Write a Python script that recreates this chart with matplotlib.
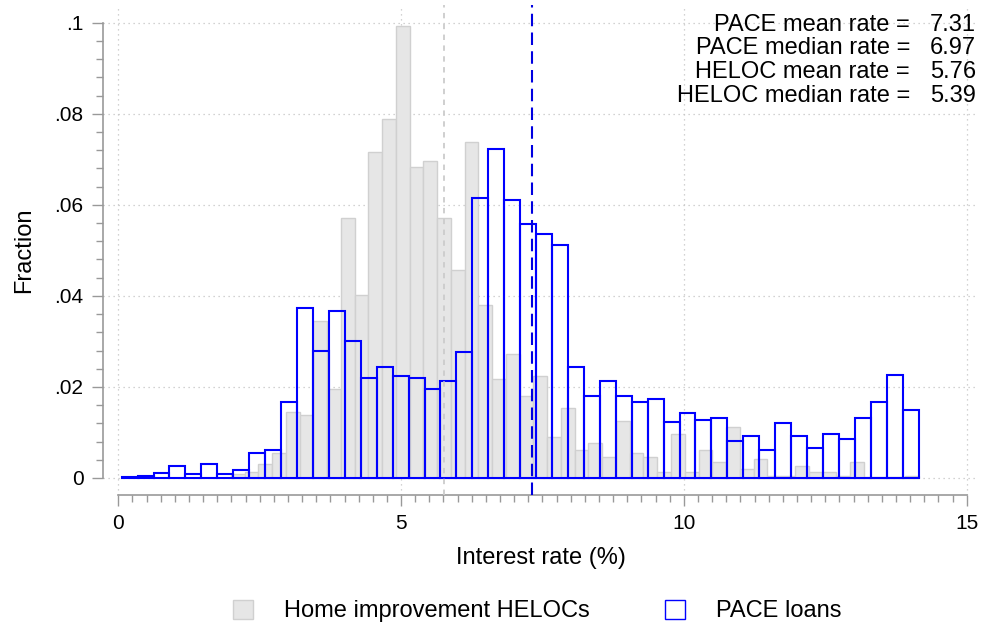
import numpy as np
import matplotlib
matplotlib.use("Agg")
import matplotlib.pyplot as plt
from matplotlib.patches import Patch

plt.rcParams['font.family'] = ['Liberation Sans', 'DejaVu Sans']

# histogram ranges (50 bins each, Stata style)
pace_lo, pace_hi = 0.06, 14.15
heloc_lo, heloc_hi = 1.99, 14.15
n_bins = 50

pace_frac = [0.0002, 0.0005, 0.0012, 0.0026, 0.0008, 0.0030, 0.0008, 0.0018, 0.0054, 0.0061,
             0.0167, 0.0374, 0.0280, 0.0367, 0.0300, 0.0220, 0.0244, 0.0223, 0.0220, 0.0195,
             0.0212, 0.0277, 0.0614, 0.0722, 0.0610, 0.0557, 0.0537, 0.0512, 0.0244, 0.0181,
             0.0212, 0.0181, 0.0167, 0.0174, 0.0124, 0.0142, 0.0128, 0.0131, 0.0082, 0.0093,
             0.0061, 0.0120, 0.0093, 0.0065, 0.0097, 0.0085, 0.0131, 0.0167, 0.0227, 0.0149]

heloc_frac = [0.0008, 0.0013, 0.0030, 0.0054, 0.0146, 0.0139, 0.0344, 0.0196, 0.0570, 0.0401,
              0.0717, 0.0789, 0.0993, 0.0683, 0.0697, 0.0570, 0.0457, 0.0739, 0.0379, 0.0217,
              0.0273, 0.0181, 0.0224, 0.0090, 0.0153, 0.0062, 0.0076, 0.0047, 0.0125, 0.0054,
              0.0047, 0.0013, 0.0097, 0.0013, 0.0062, 0.0034, 0.0111, 0.0020, 0.0041, 0.0005,
              0.0005, 0.0026, 0.0013, 0.0013, 0.0005, 0.0034, 0.0003, 0.0003, 0.0003, 0.0005]

pace_mean, pace_median = 7.31, 6.97
heloc_mean, heloc_median = 5.76, 5.39

stat_labels = ["PACE mean rate =", "PACE median rate =", "HELOC mean rate =", "HELOC median rate ="]
stat_values = [pace_mean, pace_median, heloc_mean, heloc_median]

W, H = 981, 632
fig = plt.figure(figsize=(W / 100, H / 100), dpi=100)
ax = fig.add_axes([103 / W, (H - 495) / H, 875 / W, 490 / H])

pace_edges = np.linspace(pace_lo, pace_hi, n_bins + 1)
heloc_edges = np.linspace(heloc_lo, heloc_hi, n_bins + 1)

ax.bar(heloc_edges[:-1], heloc_frac, width=np.diff(heloc_edges), align='edge',
       color='#e6e6e6', edgecolor='#d0d0d0', linewidth=1.0, zorder=2)
ax.bar(pace_edges[:-1], pace_frac, width=np.diff(pace_edges), align='edge',
       fill=False, edgecolor='#0000ff', linewidth=1.5, zorder=3)

ax.axvline(heloc_mean, color='#cccccc', linestyle=(0, (3, 3)), linewidth=1.3, zorder=4)
ax.axvline(pace_mean, color='#0000e0', linestyle=(0, (6, 3)), linewidth=1.5, zorder=4)

ax.set_xlim(-0.27, 15.2)
ax.set_ylim(-0.00374, 0.1039)

ax.set_xticks([0, 5, 10, 15])
ax.set_xticks(np.arange(0, 15.01, 0.25), minor=True)
ax.set_yticks([0, 0.02, 0.04, 0.06, 0.08, 0.1])
ax.set_yticklabels(["0", ".02", ".04", ".06", ".08", ".1"])
ax.set_yticks(np.arange(0, 0.1001, 0.004), minor=True)

ax.grid(True, which='major', color='#c4c4c4', linestyle=(0, (1, 3)), linewidth=0.9)
ax.set_axisbelow(True)

for s in ['top', 'right']:
    ax.spines[s].set_visible(False)
ax.spines['left'].set_bounds(0, 0.1)
ax.spines['bottom'].set_bounds(0, 15)
for s in ['left', 'bottom']:
    ax.spines[s].set_color('#999999')
    ax.spines[s].set_linewidth(1.2)

ax.tick_params(which='both', color='#999999', width=1.0, labelsize=15)
ax.tick_params(which='major', length=8, pad=6)
ax.tick_params(which='minor', length=5)

ax.set_xlabel("Interest rate (%)", fontsize=17, labelpad=10)
ax.set_ylabel("Fraction", fontsize=17, labelpad=14)

for i, (lab, val) in enumerate(zip(stat_labels, stat_values)):
    y = H - (31 + i * 23.5)
    fig.text(910 / W, y / H, lab, ha='right', va='baseline', fontsize=17)
    fig.text(976 / W, y / H, f"{val:.2f}", ha='right', va='baseline', fontsize=17)

handles = [Patch(facecolor='#e6e6e6', edgecolor='#d0d0d0', label='Home improvement HELOCs'),
           Patch(facecolor='none', edgecolor='#0000ff', label='PACE loans')]
fig.legend(handles=handles, loc='center', bbox_to_anchor=(537 / W, (H - 611) / H), ncol=2,
           frameon=False, fontsize=17, handlelength=0.85, handleheight=0.9,
           handletextpad=1.3, columnspacing=3.2)

fig.savefig("out.png", dpi=100)
